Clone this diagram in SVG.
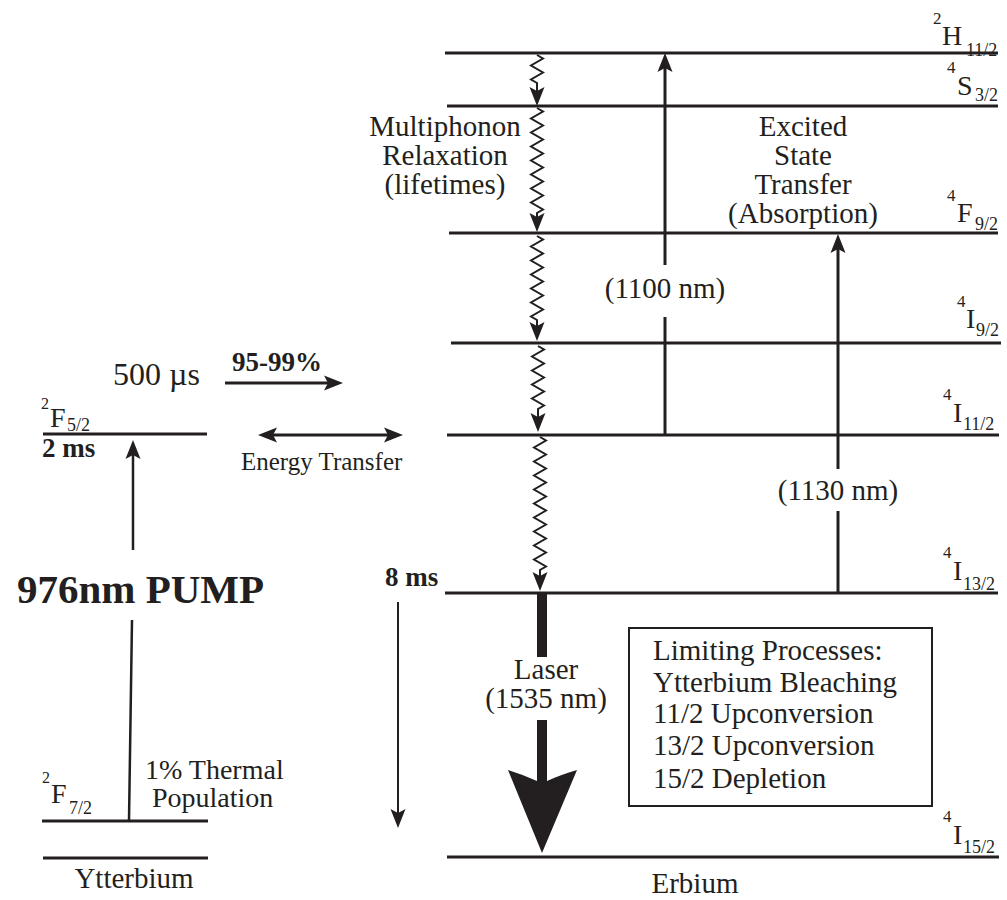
<svg xmlns="http://www.w3.org/2000/svg" width="1007" height="900" viewBox="0 0 1007 900">
<style>
  text { font-family: "Liberation Serif", "Times New Roman", serif; fill: #231f20; }
  .t { font-size: 29px; }
  .b { font-weight: bold; }
  .main { font-size: 28px; }
  .sup { font-size: 17px; }
  .sub { font-size: 18px; }
  .lvl { stroke: #231f20; stroke-width: 3; fill: none; }
  .arr { stroke: #231f20; stroke-width: 3; fill: none; marker-end: url(#ah); }
  .arrt { stroke: #231f20; stroke-width: 2; fill: none; marker-end: url(#ah); }
  .zz { stroke: #231f20; stroke-width: 2; fill: none; stroke-linejoin: miter; marker-end: url(#ah); }
</style>
<defs>
  <marker id="ah" viewBox="-20 -8 21 16" refX="-10" refY="0" markerWidth="21" markerHeight="16" markerUnits="userSpaceOnUse" orient="auto">
    <path d="M0,0 L-19,-7.5 L-15,0 L-19,7.5 Z" fill="#231f20"/>
  </marker>
  <marker id="ahs" viewBox="-20 -8 21 16" refX="-10" refY="0" markerWidth="21" markerHeight="16" markerUnits="userSpaceOnUse" orient="auto-start-reverse">
    <path d="M0,0 L-19,-7.5 L-15,0 L-19,7.5 Z" fill="#231f20"/>
  </marker>
</defs>

<!-- Ytterbium levels -->
<g id="yb-F52">
  <line class="lvl" x1="43" y1="434" x2="207" y2="434"/>
  <text class="sup" x="41" y="409" style="font-size:16px">2</text>
  <text class="main" x="50" y="427">F</text>
  <text class="sub" x="67" y="431">5/2</text>
  <text class="b" x="42" y="457" style="font-size:27px">2 ms</text>
</g>
<g id="yb-F72">
  <line class="lvl" x1="42" y1="821" x2="208" y2="821"/>
  <text class="sup" x="42" y="783" style="font-size:16px">2</text>
  <text class="main" x="51" y="803">F</text>
  <text class="sub" x="69" y="814">7/2</text>
</g>
<g id="yb-ground">
  <line class="lvl" x1="43" y1="858" x2="208" y2="858"/>
  <text class="t" x="134" y="888" text-anchor="middle">Ytterbium</text>
</g>
<g id="pump-label">
  <text class="b" x="17" y="603" style="font-size:41px">976nm PUMP</text>
</g>
<g id="thermal-label">
  <text x="145" y="779" style="font-size:28px">1% Thermal</text>
  <text x="152" y="807" style="font-size:28px">Population</text>
</g>
<g id="lifetime-500">
  <text x="113" y="385" style="font-size:32px">500 µs</text>
  <text class="b" x="232" y="371" style="font-size:27px">95-99%</text>
</g>
<g id="energy-transfer-label">
  <text x="241" y="470" style="font-size:25px">Energy Transfer</text>
</g>

<!-- Erbium levels -->
<g id="er-H112">
  <line class="lvl" x1="445" y1="53" x2="998" y2="53"/>
  <text class="sup" x="933" y="24">2</text>
  <text class="main" x="942" y="45">H</text>
  <text class="sub" x="966" y="56">11/2</text>
</g>
<g id="er-S32">
  <line class="lvl" x1="447" y1="106" x2="998" y2="106"/>
  <text class="sup" x="947" y="73">4</text>
  <text class="main" x="957" y="95">S</text>
  <text class="sub" x="975" y="101">3/2</text>
</g>
<g id="er-F92">
  <line class="lvl" x1="449" y1="233" x2="998" y2="233"/>
  <text class="sup" x="947" y="201">4</text>
  <text class="main" x="957" y="222">F</text>
  <text class="sub" x="975" y="230">9/2</text>
</g>
<g id="er-I92">
  <line class="lvl" x1="451" y1="343" x2="1001" y2="343"/>
  <text class="sup" x="957" y="307">4</text>
  <text class="main" x="966" y="328">I</text>
  <text class="sub" x="976" y="336">9/2</text>
</g>
<g id="er-I112">
  <line class="lvl" x1="447" y1="435" x2="999" y2="435"/>
  <text class="sup" x="943" y="400">4</text>
  <text class="main" x="953" y="422">I</text>
  <text class="sub" x="963" y="430">11/2</text>
</g>
<g id="er-I132">
  <line class="lvl" x1="445" y1="593" x2="998" y2="593"/>
  <text class="sup" x="943" y="558">4</text>
  <text class="main" x="953" y="580">I</text>
  <text class="sub" x="963" y="590">13/2</text>
  <text class="b" x="385" y="586" style="font-size:27px">8 ms</text>
</g>
<g id="er-I152">
  <line class="lvl" x1="447" y1="857" x2="999" y2="857"/>
  <text class="sup" x="943" y="822">4</text>
  <text class="main" x="953" y="844">I</text>
  <text class="sub" x="963" y="853">15/2</text>
  <text class="t" x="695" y="893" text-anchor="middle">Erbium</text>
</g>

<g id="multiphonon-label">
  <text class="t" x="445" y="136" text-anchor="middle">Multiphonon</text>
  <text class="t" x="445" y="165" text-anchor="middle">Relaxation</text>
  <text class="t" x="445" y="194" text-anchor="middle">(lifetimes)</text>
</g>
<g id="esa-label">
  <text class="t" x="803" y="136" text-anchor="middle">Excited</text>
  <text class="t" x="803" y="165" text-anchor="middle">State</text>
  <text class="t" x="803" y="194" text-anchor="middle">Transfer</text>
  <text class="t" x="803" y="223" text-anchor="middle">(Absorption)</text>
</g>
<g id="nm1100-label">
  <text class="t" x="665" y="298" text-anchor="middle">(1100 nm)</text>
</g>
<g id="nm1130-label">
  <text class="t" x="838" y="500" text-anchor="middle">(1130 nm)</text>
</g>
<g id="laser-label">
  <text class="t" x="546" y="679" text-anchor="middle">Laser</text>
  <text class="t" x="546" y="708" text-anchor="middle">(1535 nm)</text>
</g>
<g id="limiting-box">
  <rect x="629" y="628" width="303" height="178" fill="none" stroke="#231f20" stroke-width="2"/>
  <text class="t" x="653" y="660">Limiting Processes:</text>
  <text class="t" x="653" y="692">Ytterbium Bleaching</text>
  <text class="t" x="653" y="723">11/2 Upconversion</text>
  <text class="t" x="653" y="755">13/2 Upconversion</text>
  <text class="t" x="653" y="788">15/2 Depletion</text>
</g>

<!-- Connectors -->
<g id="connectors">
  <line class="arrt" x1="133" y1="550" x2="133" y2="450" style="stroke-width:2.5"/>
  <line x1="132" y1="620" x2="129" y2="821" stroke="#231f20" stroke-width="2.5"/>
  <line class="arr" x1="225" y1="383" x2="333" y2="383"/>
  <line x1="268" y1="435" x2="393" y2="435" stroke="#231f20" stroke-width="3" marker-start="url(#ahs)" marker-end="url(#ah)"/>
  <path class="zz" d="M537,55 l6,3.5 l-12,7 l12,7 l-12,7 l6,3.5 L537,96"/>
  <path class="zz" d="M537,108 l6,3.5 l-12,7 l12,7 l-12,7 l12,7 l-12,7 l12,7 l-12,7 l12,7 l-12,7 l12,7 l-12,7 l12,7 l-12,7 l12,7 l-6,3.5 L537,222"/>
  <path class="zz" d="M537,236 l6,3.5 l-12,7 l12,7 l-12,7 l12,7 l-12,7 l12,7 l-12,7 l12,7 l-12,7 l12,7 l-12,7 l6,3.5 L537,331"/>
  <path class="zz" d="M538,346 l6,3.5 l-12,7 l12,7 l-12,7 l12,7 l-12,7 l12,7 l-12,7 l12,7 l-6,3.5 L538,422"/>
  <path class="zz" d="M540,437 l6,3.5 l-12,7 l12,7 l-12,7 l12,7 l-12,7 l12,7 l-12,7 l12,7 l-12,7 l12,7 l-12,7 l12,7 l-12,7 l12,7 l-12,7 l12,7 l-12,7 l12,7 l-6,3.5 L540,581"/>
  <line x1="665" y1="435" x2="665" y2="317" stroke="#231f20" stroke-width="3"/>
  <line class="arr" x1="665" y1="265" x2="665" y2="63"/>
  <line x1="838" y1="593" x2="838" y2="511" stroke="#231f20" stroke-width="3"/>
  <line class="arr" x1="838" y1="469" x2="838" y2="244"/>
  <line class="arrt" x1="398" y1="602" x2="398" y2="818"/>
  <rect x="537" y="594" width="10" height="63" fill="#231f20"/>
  <path d="M537,720 L547,720 L547,781 Q560,775 577,770 L542,853 L508,770 Q524,775 537,781 Z" fill="#231f20"/>
</g>
</svg>
